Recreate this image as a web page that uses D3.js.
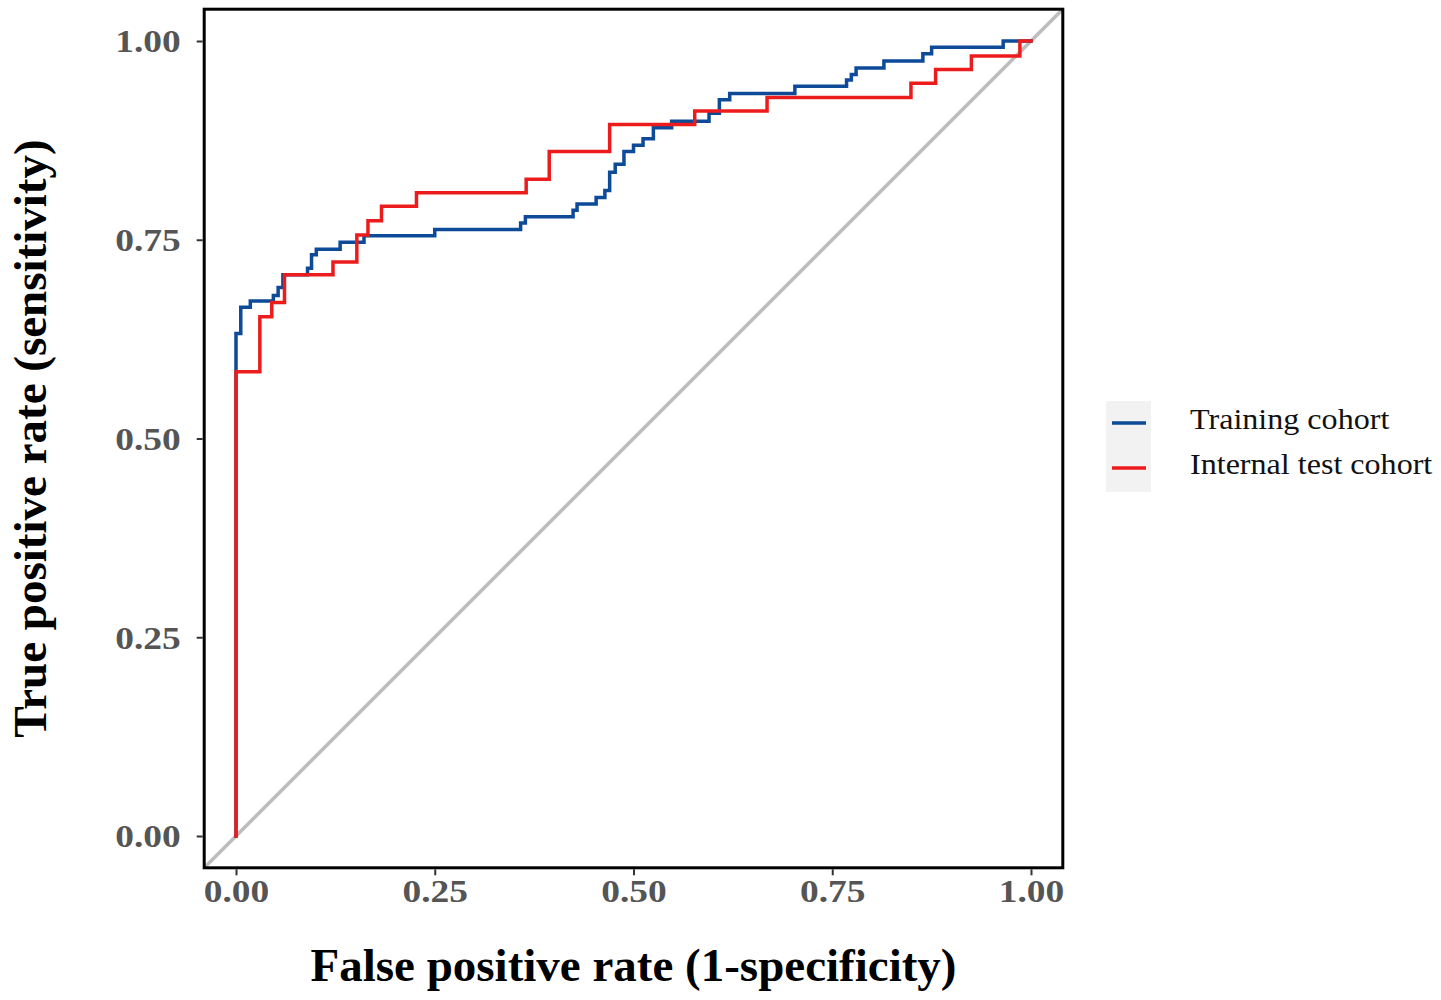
<!DOCTYPE html>
<html>
<head>
<meta charset="utf-8">
<script src="https://cdn.jsdelivr.net/npm/d3@7"></script>
<style>
  body { margin: 0; background: #fff; }
  svg { display: block; }
</style>
</head>
<body>
<svg id="roc"></svg>
<script>
// step corners of the two ROC curves (fpr where the jump happens, new tpr)
let trainFpr = [0, 0, 0.006, 0.018, 0.047, 0.053, 0.059, 0.090, 0.095, 0.101, 0.131, 0.161, 0.250, 0.358, 0.364, 0.424, 0.429, 0.453, 0.464, 0.470, 0.477, 0.488, 0.500, 0.512, 0.525, 0.548, 0.595, 0.608, 0.621, 0.703, 0.768, 0.774, 0.780, 0.815, 0.864, 0.875, 0.965, 1.0];
let trainTpr = [0, 0.632, 0.665, 0.673, 0.680, 0.690, 0.706, 0.714, 0.731, 0.738, 0.747, 0.755, 0.763, 0.771, 0.779, 0.787, 0.795, 0.803, 0.812, 0.835, 0.845, 0.861, 0.869, 0.877, 0.891, 0.899, 0.909, 0.926, 0.934, 0.943, 0.951, 0.958, 0.966, 0.975, 0.984, 0.992, 1.0, 1.0];
let testFpr = [0, 0, 0.030, 0.045, 0.061, 0.122, 0.152, 0.166, 0.183, 0.227, 0.365, 0.394, 0.470, 0.577, 0.668, 0.849, 0.880, 0.925, 0.986, 1.0];
let testTpr = [0, 0.584, 0.653, 0.671, 0.706, 0.722, 0.756, 0.774, 0.792, 0.809, 0.826, 0.861, 0.895, 0.912, 0.929, 0.947, 0.964, 0.981, 1.0, 1.0];
let tickValues = [0, 0.25, 0.5, 0.75, 1];
let seriesNames = ["Training cohort", "Internal test cohort"];
let seriesColors = ["#0d4a98", "#ec1c1c"];

const SERIF = "'Liberation Serif', 'Times New Roman', serif";

function zip(xs, ys){
    let out = [];
    for(let i = 0; i < xs.length; i++){
        out.push({fpr: xs[i], tpr: ys[i]});
    }
    return out;
}

function config(){
    let width = 1441;
    let height = 1000;
    let pad = 0.04;
    let container = d3.select("#roc").attr("width", width).attr("height", height);
    let xScale = d3.scaleLinear().domain([0, 1]).range([236, 1031]);
    let yScale = d3.scaleLinear().domain([0, 1]).range([836, 41]);
    return {width, height, pad, container, xScale, yScale};
}

function drawPanel(cfg){
    let {container, xScale, yScale, pad} = cfg;
    let left = xScale(-pad), right = xScale(1 + pad);
    let top = yScale(1 + pad), bottom = yScale(-pad);

    container.append("clipPath").attr("id", "panelClip")
        .append("rect")
        .attr("x", left).attr("y", top)
        .attr("width", right - left).attr("height", bottom - top);

    // reference diagonal
    container.append("line")
        .attr("clip-path", "url(#panelClip)")
        .attr("x1", xScale(-pad)).attr("y1", yScale(-pad))
        .attr("x2", xScale(1 + pad)).attr("y2", yScale(1 + pad))
        .attr("stroke", "#bdbdbd")
        .attr("stroke-width", 3.5);

    let line = d3.line()
        .x(d => xScale(d.fpr))
        .y(d => yScale(d.tpr))
        .curve(d3.curveStepAfter);

    let series = [zip(trainFpr, trainTpr), zip(testFpr, testTpr)];
    series.forEach((s, i) => {
        container.append("path")
            .datum(s)
            .attr("d", line)
            .attr("fill", "none")
            .attr("stroke", seriesColors[i])
            .attr("stroke-width", 3.5)
            .attr("stroke-linejoin", "miter")
            .attr("stroke-linecap", "square");
    });

    // border
    container.append("rect")
        .attr("x", left).attr("y", top)
        .attr("width", right - left).attr("height", bottom - top)
        .attr("fill", "none")
        .attr("stroke", "#000")
        .attr("stroke-width", 3);

    return {left, right, top, bottom};
}

function drawAxes(cfg, box){
    let {container, xScale, yScale} = cfg;
    let fmt = d3.format(".2f");
    let stretch = 1.17;

    let xAxis = container.append("g")
        .attr("transform", `translate(0,${box.bottom + 1.5})`)
        .call(d3.axisBottom(xScale).tickValues(tickValues).tickFormat(fmt).tickSize(6).tickPadding(4));
    let yAxis = container.append("g")
        .attr("transform", `translate(${box.left - 1.5},0)`)
        .call(d3.axisLeft(yScale).tickValues(tickValues).tickFormat(fmt).tickSize(6).tickPadding(14));

    [xAxis, yAxis].forEach(ax => {
        ax.select(".domain").remove();
        ax.selectAll(".tick line").attr("stroke", "#333").attr("stroke-width", 2);
        ax.selectAll(".tick text")
            .attr("fill", "#555")
            .style("font-family", SERIF)
            .style("font-weight", "bold")
            .style("font-size", "32px");
    });
    // the reference labels are drawn a little wide
    xAxis.selectAll(".tick text").attr("transform", `scale(${stretch},1)`);
    yAxis.selectAll(".tick text")
        .attr("dy", "0.34em")
        .attr("x", 0)
        .attr("transform", `translate(-22,0) scale(${stretch},1)`);

    container.append("text")
        .attr("x", (box.left + box.right) / 2)
        .attr("y", 981)
        .attr("text-anchor", "middle")
        .style("font-family", SERIF)
        .style("font-weight", "bold")
        .style("font-size", "47px")
        .text("False positive rate (1-specificity)");

    container.append("text")
        .attr("transform", `translate(46,${(box.top + box.bottom) / 2}) rotate(-90)`)
        .attr("text-anchor", "middle")
        .style("font-family", SERIF)
        .style("font-weight", "bold")
        .style("font-size", "47px")
        .text("True positive rate (sensitivity)");
}

function drawLegend(cfg){
    let {container} = cfg;
    let legend = container.append("g").attr("transform", "translate(1106,401)");
    legend.append("rect")
        .attr("width", 45).attr("height", 91)
        .attr("fill", "#f2f2f2");
    seriesNames.forEach((name, i) => {
        let cy = 22 + i * 45;
        legend.append("line")
            .attr("x1", 6).attr("x2", 40)
            .attr("y1", cy).attr("y2", cy)
            .attr("stroke", seriesColors[i])
            .attr("stroke-width", 3.5);
        legend.append("text")
            .attr("transform", `translate(84,${cy + 6}) scale(1.07,1)`)
            .style("font-family", SERIF)
            .style("font-size", "30px")
            .attr("fill", "#111")
            .text(name);
    });
}

let cfg = config();
let box = drawPanel(cfg);
drawAxes(cfg, box);
drawLegend(cfg);
</script>
</body>
</html>
